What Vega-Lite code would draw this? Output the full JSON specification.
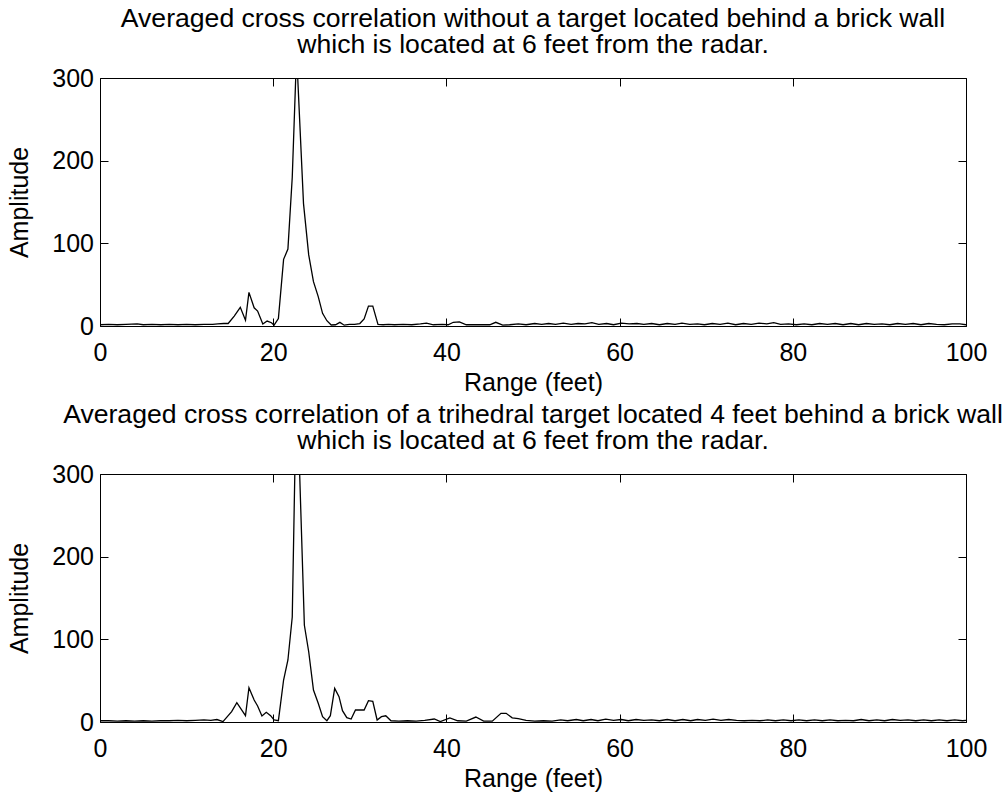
{
  "$schema": "https://vega.github.io/schema/vega-lite/v6.json",
  "background": "white",
  "padding": {"left": 6, "top": 5, "right": 4, "bottom": 2},
  "bounds": "flush",
  "spacing": 148,
  "config": {
    "font": "Liberation Sans",
    "view": {"stroke": "black", "strokeWidth": 1},
    "axis": {
      "grid": false,
      "domain": false,
      "labelFont": "Liberation Sans",
      "labelFontSize": 25,
      "labelColor": "black",
      "labelFlush": false,
      "tickColor": "black",
      "tickSize": -8,
      "titleFont": "Liberation Sans",
      "titleFontSize": 25,
      "titleFontWeight": "normal",
      "titleColor": "black"
    },
    "title": {"font": "Liberation Sans", "fontSize": 26.6, "fontWeight": "normal", "color": "black", "anchor": "middle", "lineHeight": 26.5, "offset": 7}
  },
  "datasets": {
    "top": [
      {"range": 0, "amp": 1.5}, {"range": 1, "amp": 2}, {"range": 2, "amp": 1.5}, {"range": 3, "amp": 2}, {"range": 4.3, "amp": 2.5},
      {"range": 5, "amp": 1.5}, {"range": 6, "amp": 2}, {"range": 7, "amp": 1.5}, {"range": 8, "amp": 2}, {"range": 9, "amp": 1.5},
      {"range": 10, "amp": 2}, {"range": 11, "amp": 1.5}, {"range": 12, "amp": 2}, {"range": 13, "amp": 2}, {"range": 13.6, "amp": 2.5},
      {"range": 14.3, "amp": 3}, {"range": 14.8, "amp": 3}, {"range": 15.5, "amp": 12}, {"range": 16.2, "amp": 22.6}, {"range": 16.8, "amp": 7},
      {"range": 17.2, "amp": 40.7}, {"range": 17.8, "amp": 22}, {"range": 18.2, "amp": 18}, {"range": 18.8, "amp": 2.4}, {"range": 19.3, "amp": 6},
      {"range": 19.8, "amp": 4}, {"range": 20.1, "amp": 1}, {"range": 20.6, "amp": 9}, {"range": 21.2, "amp": 80.6}, {"range": 21.7, "amp": 93},
      {"range": 22.2, "amp": 180}, {"range": 22.7, "amp": 330}, {"range": 23.5, "amp": 148}, {"range": 24.1, "amp": 86}, {"range": 24.65, "amp": 53.6},
      {"range": 25.2, "amp": 35.5}, {"range": 25.7, "amp": 15.3}, {"range": 26.2, "amp": 6.4}, {"range": 26.7, "amp": 1.2}, {"range": 27.2, "amp": 1.5},
      {"range": 27.7, "amp": 4.4}, {"range": 28.2, "amp": 1}, {"range": 28.8, "amp": 2}, {"range": 29.4, "amp": 2}, {"range": 30, "amp": 3},
      {"range": 30.5, "amp": 8.5}, {"range": 31.0, "amp": 24}, {"range": 31.5, "amp": 24}, {"range": 32.1, "amp": 2}, {"range": 32.7, "amp": 1.5},
      {"range": 33.3, "amp": 2}, {"range": 34, "amp": 1.5}, {"range": 35, "amp": 2}, {"range": 36, "amp": 1.5}, {"range": 37, "amp": 2.5},
      {"range": 37.7, "amp": 3.5}, {"range": 38.5, "amp": 1.5}, {"range": 39.5, "amp": 2}, {"range": 40.2, "amp": 1.5}, {"range": 40.8, "amp": 4.5},
      {"range": 41.5, "amp": 5}, {"range": 42.3, "amp": 1.5}, {"range": 43.2, "amp": 1.5}, {"range": 44.2, "amp": 1.5}, {"range": 45.0, "amp": 1.5},
      {"range": 45.7, "amp": 4.5}, {"range": 46.5, "amp": 1}, {"range": 47.3, "amp": 1.5}, {"range": 48.3, "amp": 2.5}, {"range": 49.2, "amp": 1.5},
      {"range": 50.2, "amp": 3}, {"range": 51.0, "amp": 2}, {"range": 51.8, "amp": 3}, {"range": 52.6, "amp": 2}, {"range": 53.5, "amp": 3.5},
      {"range": 54.4, "amp": 2}, {"range": 55.2, "amp": 3}, {"range": 56.0, "amp": 2.5}, {"range": 56.8, "amp": 4}, {"range": 57.6, "amp": 2},
      {"range": 58.5, "amp": 3}, {"range": 59.3, "amp": 1.5}, {"range": 60.2, "amp": 3.5}, {"range": 61.1, "amp": 2.5}, {"range": 62.0, "amp": 3},
      {"range": 62.8, "amp": 2}, {"range": 63.7, "amp": 3}, {"range": 64.6, "amp": 1.5}, {"range": 65.5, "amp": 3}, {"range": 66.4, "amp": 2},
      {"range": 67.2, "amp": 3.5}, {"range": 68.1, "amp": 2}, {"range": 69.0, "amp": 2.5}, {"range": 69.8, "amp": 1.5}, {"range": 70.7, "amp": 3},
      {"range": 71.6, "amp": 2}, {"range": 72.5, "amp": 3.5}, {"range": 73.4, "amp": 1.5}, {"range": 74.3, "amp": 3}, {"range": 75.2, "amp": 2},
      {"range": 76.1, "amp": 3.5}, {"range": 77.0, "amp": 2.5}, {"range": 77.8, "amp": 4}, {"range": 78.6, "amp": 2}, {"range": 79.5, "amp": 2.5},
      {"range": 80.4, "amp": 1.5}, {"range": 81.3, "amp": 2.5}, {"range": 82.2, "amp": 1.5}, {"range": 83.1, "amp": 3}, {"range": 84.0, "amp": 2},
      {"range": 84.9, "amp": 3}, {"range": 85.8, "amp": 1.5}, {"range": 86.7, "amp": 3}, {"range": 87.6, "amp": 1.5}, {"range": 88.5, "amp": 3},
      {"range": 89.4, "amp": 2}, {"range": 90.3, "amp": 2.5}, {"range": 91.2, "amp": 1.5}, {"range": 92.1, "amp": 3}, {"range": 93.0, "amp": 2},
      {"range": 93.9, "amp": 3}, {"range": 94.8, "amp": 1.5}, {"range": 95.7, "amp": 3}, {"range": 96.6, "amp": 2}, {"range": 97.5, "amp": 1.5},
      {"range": 98.4, "amp": 2.5}, {"range": 99.3, "amp": 2.5}, {"range": 100, "amp": 1.5}
    ],
    "bottom": [
      {"range": 0, "amp": 1.5}, {"range": 1, "amp": 1.5}, {"range": 2, "amp": 1}, {"range": 3, "amp": 1.5}, {"range": 4, "amp": 1},
      {"range": 5, "amp": 1.5}, {"range": 6, "amp": 1}, {"range": 7, "amp": 1.5}, {"range": 8, "amp": 1.5}, {"range": 9, "amp": 2},
      {"range": 10, "amp": 1.5}, {"range": 11, "amp": 2}, {"range": 12, "amp": 2.5}, {"range": 12.8, "amp": 2}, {"range": 13.5, "amp": 3},
      {"range": 14.2, "amp": 0.5}, {"range": 15.2, "amp": 12.5}, {"range": 15.8, "amp": 23.4}, {"range": 16.8, "amp": 7.7}, {"range": 17.2, "amp": 41.5},
      {"range": 17.8, "amp": 26.6}, {"range": 18.2, "amp": 19.4}, {"range": 18.7, "amp": 7.3}, {"range": 19.2, "amp": 11.7}, {"range": 19.7, "amp": 7.7},
      {"range": 20.1, "amp": 2.4}, {"range": 20.6, "amp": 1.6}, {"range": 21.2, "amp": 50.8}, {"range": 21.7, "amp": 75}, {"range": 22.2, "amp": 127},
      {"range": 22.7, "amp": 420}, {"range": 23.6, "amp": 117}, {"range": 24.1, "amp": 85}, {"range": 24.65, "amp": 38.7}, {"range": 25.2, "amp": 22.6},
      {"range": 25.7, "amp": 6.5}, {"range": 26.2, "amp": 1.6}, {"range": 26.6, "amp": 7.7}, {"range": 27.1, "amp": 40.7}, {"range": 27.6, "amp": 30.6},
      {"range": 28.0, "amp": 13.7}, {"range": 28.5, "amp": 5.2}, {"range": 29.0, "amp": 3.6}, {"range": 29.5, "amp": 14.5}, {"range": 30.5, "amp": 14.5},
      {"range": 31.0, "amp": 25.8}, {"range": 31.5, "amp": 25}, {"range": 32.0, "amp": 2.4}, {"range": 32.5, "amp": 6.5}, {"range": 33.0, "amp": 7.5},
      {"range": 33.6, "amp": 1.5}, {"range": 34.5, "amp": 1}, {"range": 35.5, "amp": 1.5}, {"range": 36.5, "amp": 1}, {"range": 37.5, "amp": 2},
      {"range": 38.6, "amp": 3.6}, {"range": 39.3, "amp": 0.5}, {"range": 40.4, "amp": 5}, {"range": 41.3, "amp": 1.5}, {"range": 42.3, "amp": 1},
      {"range": 43.4, "amp": 6}, {"range": 44.3, "amp": 1}, {"range": 45.3, "amp": 1}, {"range": 46.3, "amp": 10.5}, {"range": 46.9, "amp": 10.5},
      {"range": 47.6, "amp": 5}, {"range": 48.3, "amp": 4}, {"range": 49.2, "amp": 2}, {"range": 50.2, "amp": 1}, {"range": 51.2, "amp": 1.5},
      {"range": 52.2, "amp": 1}, {"range": 53.2, "amp": 2.5}, {"range": 54.0, "amp": 1.5}, {"range": 55.0, "amp": 3}, {"range": 55.8, "amp": 1.5},
      {"range": 56.7, "amp": 3}, {"range": 57.5, "amp": 1.5}, {"range": 58.4, "amp": 3.5}, {"range": 59.3, "amp": 2}, {"range": 60.2, "amp": 3},
      {"range": 61.0, "amp": 1.5}, {"range": 61.9, "amp": 3}, {"range": 62.8, "amp": 2}, {"range": 63.7, "amp": 2.5}, {"range": 64.6, "amp": 1.5},
      {"range": 65.5, "amp": 3}, {"range": 66.4, "amp": 1.5}, {"range": 67.3, "amp": 3}, {"range": 68.2, "amp": 1.5}, {"range": 69.0, "amp": 3},
      {"range": 69.9, "amp": 2}, {"range": 70.8, "amp": 3.5}, {"range": 71.7, "amp": 2}, {"range": 72.6, "amp": 3}, {"range": 73.5, "amp": 2},
      {"range": 74.4, "amp": 1.5}, {"range": 75.3, "amp": 2}, {"range": 76.2, "amp": 1.5}, {"range": 77.1, "amp": 2.5}, {"range": 78.0, "amp": 1.5},
      {"range": 78.9, "amp": 2.5}, {"range": 79.8, "amp": 1.5}, {"range": 80.7, "amp": 2.5}, {"range": 81.6, "amp": 1.5}, {"range": 82.5, "amp": 2.5},
      {"range": 83.4, "amp": 1.5}, {"range": 84.3, "amp": 2.5}, {"range": 85.2, "amp": 1.5}, {"range": 86.1, "amp": 2}, {"range": 87.0, "amp": 1.5},
      {"range": 87.9, "amp": 3}, {"range": 88.8, "amp": 1.5}, {"range": 89.7, "amp": 2.5}, {"range": 90.6, "amp": 1.5}, {"range": 91.5, "amp": 3},
      {"range": 92.4, "amp": 2}, {"range": 93.3, "amp": 2.5}, {"range": 94.2, "amp": 1.5}, {"range": 95.1, "amp": 2.5}, {"range": 96.0, "amp": 1.5},
      {"range": 96.9, "amp": 2.5}, {"range": 97.8, "amp": 1.5}, {"range": 98.7, "amp": 2.5}, {"range": 99.6, "amp": 1.5}, {"range": 100, "amp": 2}
    ]
  },
  "vconcat": [
    {
      "width": 866,
      "height": 248,
      "title": {"text": ["Averaged cross correlation without a target located behind a brick wall", "which is located at 6 feet from the radar."]},
      "data": {"name": "top"},
      "layer": [
        {
          "mark": {"type": "line", "color": "black", "strokeWidth": 1.3, "clip": true},
          "encoding": {
            "x": {"field": "range", "type": "quantitative", "scale": {"domain": [0, 100], "nice": false}, "axis": {"orient": "bottom", "values": [0, 20, 40, 60, 80, 100], "title": "Range (feet)", "labelPadding": 22, "titleY": 64, "titleBaseline": "alphabetic"}},
            "y": {"field": "amp", "type": "quantitative", "scale": {"domain": [0, 300], "nice": false}, "axis": {"orient": "left", "values": [0, 100, 200, 300], "title": "Amplitude", "labelPadding": 14.5, "titleX": -72.5, "titleBaseline": "alphabetic"}}
          }
        },
        {
          "mark": {"type": "line", "strokeOpacity": 0, "clip": true},
          "encoding": {
            "x": {"field": "range", "type": "quantitative", "scale": {"domain": [0, 100], "nice": false}, "axis": {"orient": "top", "values": [0, 20, 40, 60, 80, 100], "labels": false, "title": null}},
            "y": {"field": "amp", "type": "quantitative", "scale": {"domain": [0, 300], "nice": false}, "axis": {"orient": "right", "values": [0, 100, 200, 300], "labels": false, "title": null}}
          }
        }
      ],
      "resolve": {"axis": {"x": "independent", "y": "independent"}}
    },
    {
      "width": 866,
      "height": 248,
      "title": {"text": ["Averaged cross correlation of a trihedral target located 4 feet behind a brick wall", "which is located at 6 feet from the radar."]},
      "data": {"name": "bottom"},
      "layer": [
        {
          "mark": {"type": "line", "color": "black", "strokeWidth": 1.3, "clip": true},
          "encoding": {
            "x": {"field": "range", "type": "quantitative", "scale": {"domain": [0, 100], "nice": false}, "axis": {"orient": "bottom", "values": [0, 20, 40, 60, 80, 100], "title": "Range (feet)", "labelPadding": 22, "titleY": 64, "titleBaseline": "alphabetic"}},
            "y": {"field": "amp", "type": "quantitative", "scale": {"domain": [0, 300], "nice": false}, "axis": {"orient": "left", "values": [0, 100, 200, 300], "title": "Amplitude", "labelPadding": 14.5, "titleX": -72.5, "titleBaseline": "alphabetic"}}
          }
        },
        {
          "mark": {"type": "line", "strokeOpacity": 0, "clip": true},
          "encoding": {
            "x": {"field": "range", "type": "quantitative", "scale": {"domain": [0, 100], "nice": false}, "axis": {"orient": "top", "values": [0, 20, 40, 60, 80, 100], "labels": false, "title": null}},
            "y": {"field": "amp", "type": "quantitative", "scale": {"domain": [0, 300], "nice": false}, "axis": {"orient": "right", "values": [0, 100, 200, 300], "labels": false, "title": null}}
          }
        }
      ],
      "resolve": {"axis": {"x": "independent", "y": "independent"}}
    }
  ]
}
